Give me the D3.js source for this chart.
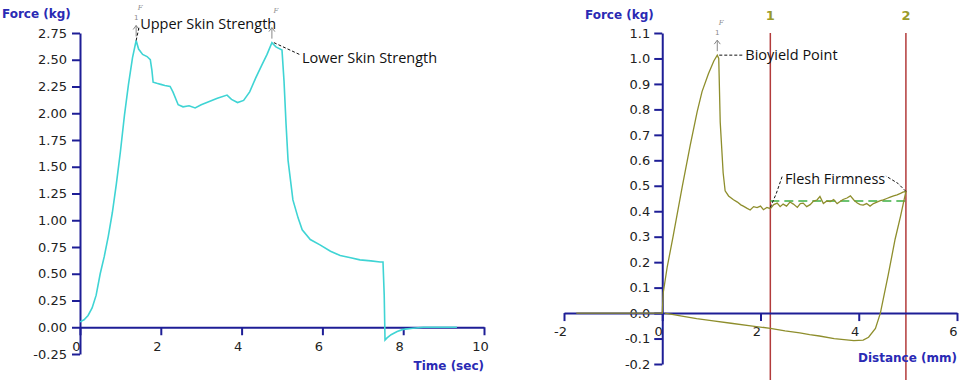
<!DOCTYPE html>
<html><head><meta charset="utf-8">
<script src="https://cdn.jsdelivr.net/npm/d3@7"></script>
<style>
body{margin:0;background:#fff;}
svg{display:block;}
</style></head>
<body>
<svg id="c" width="960" height="380"></svg>
<script>
// ---- Left chart: puncture test (Time vs Force)
const leftTime = [0,0.1,0.2,0.3,0.4,0.5,0.6,0.7,0.8,0.9,1.0,1.1,1.2,1.3,1.39,1.45,1.55,1.66,1.74,1.78,1.81,1.9,2.0,2.1,2.23,2.3,2.43,2.55,2.7,2.85,3.0,3.2,3.4,3.64,3.75,3.9,4.05,4.2,4.35,4.5,4.63,4.75,4.85,5.0,5.05,5.1,5.15,5.27,5.4,5.5,5.7,5.94,6.2,6.44,6.7,6.93,7.2,7.43,7.5,7.53,7.55,7.6,7.7,7.85,8.0,8.24,8.5,8.8,9.0,9.33];
const leftForce = [0.05,0.07,0.11,0.18,0.3,0.5,0.66,0.85,1.07,1.34,1.64,1.98,2.27,2.52,2.68,2.6,2.55,2.53,2.5,2.4,2.29,2.28,2.27,2.26,2.25,2.2,2.08,2.06,2.07,2.05,2.08,2.11,2.14,2.17,2.13,2.10,2.12,2.2,2.33,2.45,2.55,2.66,2.62,2.59,2.3,1.9,1.56,1.19,1.02,0.91,0.82,0.77,0.71,0.67,0.65,0.63,0.62,0.61,0.61,0.3,-0.12,-0.1,-0.07,-0.04,-0.02,-0.01,0,0,0,0];
const leftXTicks = [0,2,4,6,8,10];
const leftYTicks = [-0.25,0,0.25,0.5,0.75,1.0,1.25,1.5,1.75,2.0,2.25,2.5,2.75];
const leftPeaks = [{t:1.39,f:2.68,label:"Upper Skin Strength"},{t:4.75,f:2.66,label:"Lower Skin Strength"}];

// ---- Right chart: compression test (Distance vs Force)
const rightDist = [-1.75,-1.0,-0.5,0,0.02,0.06,0.1,0.22,0.41,0.57,0.71,0.81,0.94,1.05,1.12,1.15,1.18,1.24,1.28,1.35,1.45,1.53,1.6,1.65,1.72,1.79,1.86,1.93,2.0,2.06,2.13,2.2,2.27,2.34,2.4,2.46,2.53,2.6,2.67,2.75,2.81,2.87,2.94,3.01,3.08,3.15,3.21,3.28,3.35,3.42,3.49,3.56,3.62,3.68,3.76,3.83,3.9,3.97,4.03,4.09,4.16,4.23,4.3,4.37,4.44,4.5,4.57,4.64,4.71,4.78,4.85,4.9,4.96,4.85,4.74,4.6,4.44,4.34,4.2,4.09,3.9,3.7,3.5,3.2,3.0,2.8,2.5,2.2,1.8,1.4,1.0,0.7,0.4,0.2,0.05];
const rightForce = [0,0,0,0,0.08,0.13,0.18,0.3,0.5,0.66,0.79,0.87,0.94,0.99,1.013,1.0,0.75,0.55,0.48,0.46,0.445,0.436,0.425,0.42,0.412,0.405,0.418,0.414,0.42,0.406,0.415,0.41,0.426,0.432,0.418,0.428,0.42,0.436,0.428,0.415,0.43,0.432,0.418,0.426,0.44,0.444,0.458,0.43,0.44,0.438,0.446,0.43,0.438,0.446,0.452,0.46,0.444,0.432,0.426,0.424,0.43,0.42,0.43,0.436,0.442,0.445,0.45,0.455,0.46,0.464,0.47,0.475,0.478,0.38,0.29,0.15,0.0,-0.06,-0.095,-0.106,-0.108,-0.104,-0.1,-0.09,-0.085,-0.078,-0.07,-0.06,-0.05,-0.04,-0.03,-0.022,-0.012,-0.005,0];
const rightXTicks = [-2,0,2,4,6];
const rightYTicks = [-0.2,-0.1,0,0.1,0.2,0.3,0.4,0.5,0.6,0.7,0.8,0.9,1.0,1.1];
const markerDist = [2.2,4.96];
const markerLabels = ["1","2"];
const firmnessAvg = 0.44;

const svg = d3.select("#c");
const AXIS = "#1e1e96", TITLE = "#2a2ab4", TXT = "#222";
const tickFont = "'DejaVu Sans', sans-serif";
const annFont = "'Open Sans', sans-serif";
const hy = f => (v => f(v).replace("\u2212","-"));

function styleAxis(g){
  g.selectAll("path,line").attr("stroke",AXIS).attr("stroke-width",2);
  g.selectAll("text").attr("fill",TXT).style("font-family",tickFont).style("font-size","13px");
}

// ===== LEFT =====
const xL = d3.scaleLinear().domain([0,10]).range([80,484]);
const yL = d3.scaleLinear().domain([-0.25,2.75]).range([354,33]);

const gLy = svg.append("g").attr("transform",`translate(${xL(0)},0)`)
  .call(d3.axisLeft(yL).tickValues(leftYTicks).tickFormat(hy(d3.format(".2f"))).tickSize(8).tickSizeOuter(0).tickPadding(5));
styleAxis(gLy);
const gLx = svg.append("g").attr("transform",`translate(0,${yL(0)})`)
  .call(d3.axisBottom(xL).tickValues(leftXTicks).tickFormat(hy(d3.format("d"))).tickSize(8).tickSizeOuter(0).tickPadding(7));
styleAxis(gLx);
gLx.selectAll("text").attr("dx",-4);

svg.append("path")
  .datum(leftTime.map((t,i)=>[t,leftForce[i]]))
  .attr("fill","none").attr("stroke","#3fd4d4").attr("stroke-width",1.6)
  .attr("d",d3.line().x(d=>xL(d[0])).y(d=>yL(d[1])));

svg.append("text").attr("x",2).attr("y",18).text("Force (kg)")
  .attr("fill",TITLE).style("font-family",tickFont).style("font-weight","bold").style("font-size","12px");
svg.append("text").attr("x",xL(10)).attr("y",370).attr("text-anchor","end").text("Time (sec)")
  .attr("fill",TITLE).style("font-family",tickFont).style("font-weight","bold").style("font-size","12px");

function peakMarker(px,py,showOne){
  svg.append("line").attr("x1",px).attr("x2",px).attr("y1",py-4).attr("y2",py-15)
    .attr("stroke","#888").attr("stroke-width",1);
  svg.append("path").attr("d",`M${px-3},${py-11}L${px},${py-15}L${px+3},${py-11}`)
    .attr("fill","none").attr("stroke","#888").attr("stroke-width",1);
  if(showOne) svg.append("text").attr("x",px).attr("y",py-20).attr("text-anchor","middle").text("1")
    .attr("fill","#888").style("font-family",tickFont).style("font-size","7px");
  svg.append("text").attr("x",px+4).attr("y",py-30).attr("text-anchor","middle").text("F")
    .attr("fill","#888").style("font-family","'DejaVu Serif', serif").style("font-style","italic").style("font-size","7px");
}
function dashed(pts){
  svg.append("path").attr("d",d3.line()(pts)).attr("fill","none")
    .attr("stroke","#111").attr("stroke-width",1).attr("stroke-dasharray","3,2");
}
function annText(x,y,s){
  svg.append("text").attr("x",x).attr("y",y).text(s)
    .attr("fill","#111").style("font-family",annFont).style("font-size","14.5px");
}

// upper skin
{
  const px = xL(leftPeaks[0].t), py = yL(leftPeaks[0].f);
  peakMarker(px,py,true);
  dashed([[px,py],[px+3,py-14]]);
  annText(px+4,29,leftPeaks[0].label);
}
// lower skin
{
  const px = xL(leftPeaks[1].t), py = yL(leftPeaks[1].f);
  peakMarker(px,py,false);
  dashed([[px+2,py],[px+28,py+12]]);
  annText(px+30,63,leftPeaks[1].label);
}

// ===== RIGHT =====
const xR = d3.scaleLinear().domain([-2,6]).range([564,957]);
const yR = d3.scaleLinear().domain([-0.2,1.1]).range([364,33]);

// marker vertical lines
markerDist.forEach((d,i)=>{
  svg.append("line").attr("x1",xR(d)).attr("x2",xR(d)).attr("y1",33).attr("y2",380)
    .attr("stroke","#b23b3b").attr("stroke-width",1.5);
  svg.append("text").attr("x",xR(d)).attr("y",20).attr("text-anchor","middle").text(markerLabels[i])
    .attr("fill","#9b9b2a").style("font-family",tickFont).style("font-weight","bold").style("font-size","13px");
});

const gRy = svg.append("g").attr("transform",`translate(${xR(0)},0)`)
  .call(d3.axisLeft(yR).tickValues(rightYTicks).tickFormat(hy(d3.format(".1f"))).tickSize(8).tickSizeOuter(0).tickPadding(4));
styleAxis(gRy);
const gRx = svg.append("g").attr("transform",`translate(0,${yR(0)})`)
  .call(d3.axisBottom(xR).tickValues(rightXTicks).tickFormat(hy(d3.format("d"))).tickSize(8).tickSizeOuter(0).tickPadding(6));
styleAxis(gRx);
gRx.selectAll("text").attr("dx",-4);

// firmness average (dashed green)
svg.append("path")
  .datum([[markerDist[0],firmnessAvg],[markerDist[1],firmnessAvg]])
  .attr("fill","none").attr("stroke","#3cb043").attr("stroke-width",1.5).attr("stroke-dasharray","9,5")
  .attr("d",d3.line().x(d=>xR(d[0])).y(d=>yR(d[1])));

svg.append("path")
  .datum(rightDist.map((d,i)=>[d,rightForce[i]]))
  .attr("fill","none").attr("stroke","#8e8e2c").attr("stroke-width",1.3)
  .attr("d",d3.line().x(d=>xR(d[0])).y(d=>yR(d[1])));

svg.append("text").attr("x",585).attr("y",19).text("Force (kg)")
  .attr("fill",TITLE).style("font-family",tickFont).style("font-weight","bold").style("font-size","12px");
svg.append("text").attr("x",xR(6)).attr("y",362).attr("text-anchor","end").text("Distance (mm)")
  .attr("fill",TITLE).style("font-family",tickFont).style("font-weight","bold").style("font-size","12px");

// bioyield
{
  const px = xR(1.12), py = yR(1.013);
  peakMarker(px,py,true);
  dashed([[px+2,py],[px+26,py]]);
  annText(px+28,60,"Bioyield Point");
}
// flesh firmness
{
  const x1 = xR(markerDist[0]), y1 = yR(0.415);
  const x2 = xR(markerDist[1]), y2 = yR(0.478);
  dashed([[x1,y1],[x1+6,y1-14],[x1+12,176]]);
  dashed([[x2,y2],[x2-8,y2-8],[x2-20,176]]);
  annText(785,184,"Flesh Firmness");
}
</script>
</body></html>
